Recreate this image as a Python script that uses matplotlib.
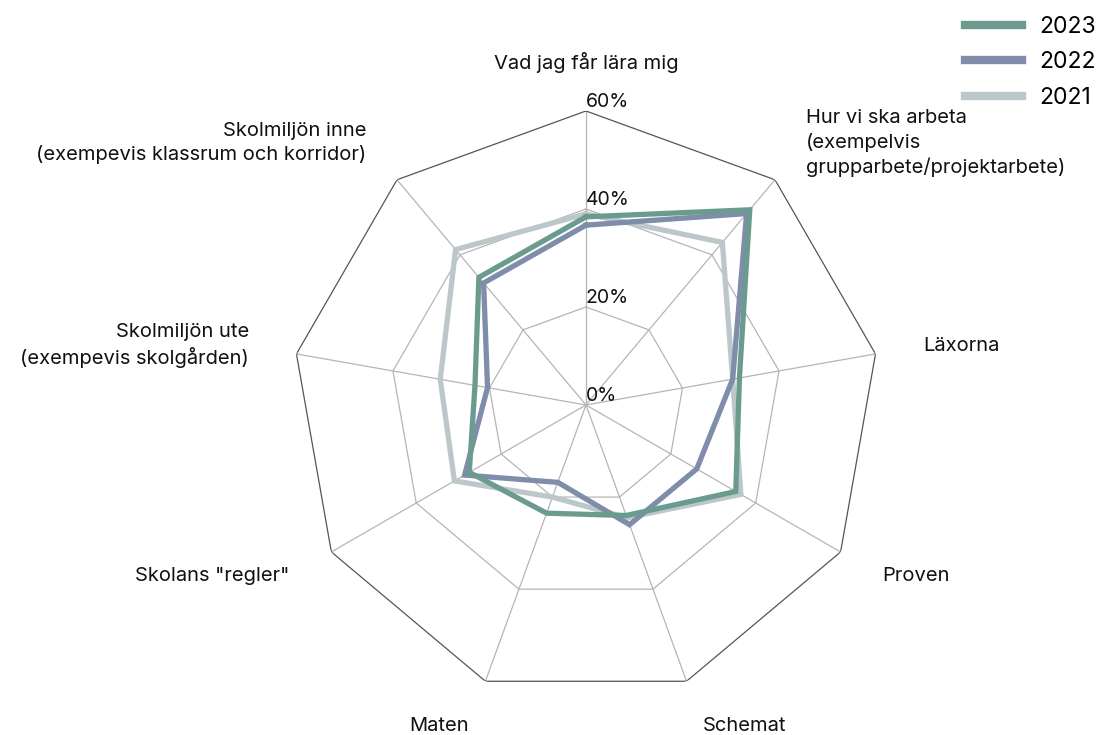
import numpy as np
import matplotlib
matplotlib.use("Agg")
import matplotlib.pyplot as plt
from matplotlib.lines import Line2D

plt.rcParams["font.family"] = ["Inter", "DejaVu Sans"]

categories = [
    "Vad jag får lära mig",
    "Hur vi ska arbeta\n(exempelvis\ngrupparbete/projektarbete)",
    "Läxorna",
    "Proven",
    "Schemat",
    "Maten",
    'Skolans "regler"',
    "Skolmiljön ute\n(exempevis skolgården)",
    "Skolmiljön inne\n(exempevis klassrum och korridor)",
]
years = ["2023", "2022", "2021"]
v2023 = [38.4, 52.0, 31.8, 35.3, 24.0, 23.5, 27.5, 23.0, 34.0]
v2022 = [36.7, 51.0, 30.4, 26.1, 26.0, 16.8, 28.6, 20.4, 32.5]
v2021 = [39.0, 43.3, 30.4, 36.5, 24.5, 20.0, 31.0, 30.2, 41.4]
levels = [20, 40, 60]

colors = {"2023": "#6b9b8f", "2022": "#7f8dab", "2021": "#bcc7ca"}

n = len(categories)
theta = np.arange(n) * 2 * np.pi / n
theta_closed = np.append(theta, theta[0])

fig = plt.figure(figsize=(10.96, 7.35), dpi=100)
ax = fig.add_axes([0.2664, 0.049, 0.5365, 0.8], projection="polar")
ax.set_theta_zero_location("N")
ax.set_theta_direction(-1)
ax.set_ylim(0, 60)
ax.grid(False)
ax.spines["polar"].set_visible(False)
ax.set_xticks([])
ax.set_yticks([])
ax.patch.set_alpha(0)

# polygon grid + spokes
for t in theta:
    ax.plot([t, t], [0, 60], color="#b5b5b5", lw=0.9, zorder=1)
for lv in levels:
    col = "#555555" if lv == 60 else "#b5b5b5"
    ax.plot(theta_closed, [lv] * (n + 1), color=col, lw=0.9, zorder=1)

for lv in [0] + levels:
    ax.text(0, lv, f"{lv}%", ha="left", va="bottom", fontsize=14,
            color="#111111", zorder=5)

series = {"2021": v2021, "2022": v2022, "2023": v2023}
for yr in ["2021", "2022", "2023"]:
    vals = series[yr]
    ax.plot(theta_closed, vals + vals[:1], color=colors[yr], lw=3.8,
            solid_joinstyle="miter", zorder=3)

for t, lab in zip(theta, categories):
    s = np.sin(t)
    ha = "center" if abs(s) < 0.01 else ("left" if s > 0 else "right")
    ax.text(t, 69.8, lab, ha=ha, va="center", fontsize=14.5,
            linespacing=1.35, color="#111111")

handles = [Line2D([], [], color=colors[y], lw=6) for y in years]
fig.legend(handles, years, loc="upper right", bbox_to_anchor=(1.0, 0.978),
           frameon=False, fontsize=16.5, handlelength=2.5, handletextpad=0.75,
           labelspacing=0.58, borderpad=0, borderaxespad=0)

fig.savefig("out.png", dpi=100)
